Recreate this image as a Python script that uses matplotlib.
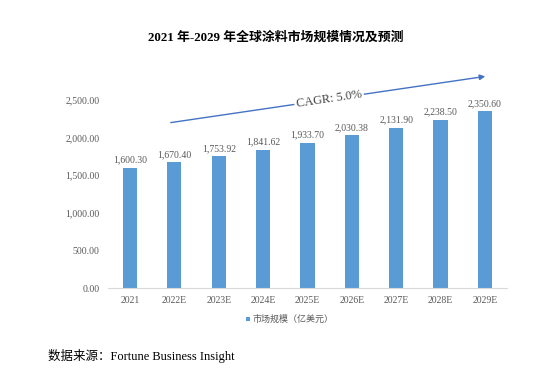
import matplotlib.pyplot as plt

# Data
years = ['2021', '2022E', '2023E', '2024E', '2025E', '2026E', '2027E', '2028E', '2029E']
market_size = [1600.30, 1670.40, 1753.92, 1841.62, 1933.70, 2030.38, 2131.90, 2238.50, 2350.60]
y_ticks = [0, 500, 1000, 1500, 2000, 2500]

serif = ['Liberation Serif', 'Noto Sans CJK SC']
cjk = ['Noto Sans CJK SC', 'DejaVu Sans']
gray = '#595959'
blue = '#5B9BD5'

fig = plt.figure(figsize=(5.56, 3.82), dpi=100)
ax = fig.add_axes([0.194, 0.246, 0.718, 0.492])

x = range(len(years))
ax.bar(x, market_size, width=0.32, color=blue, label='市场规模（亿美元）')
for xi, v in zip(x, market_size):
    ax.text(xi, v + 40, f'{v:,.2f}', ha='center', va='bottom',
            fontsize=7, color=gray, family=serif)

ax.set_xlim(-0.5, len(years) - 0.5)
ax.set_ylim(0, 2500)
ax.set_yticks(y_ticks)
ax.set_yticklabels([f'{t:,.2f}' for t in y_ticks], family=serif, fontsize=7, color=gray)
ax.set_xticks(list(x))
ax.set_xticklabels(years, family=serif, fontsize=7, color=gray)
ax.tick_params(length=0, pad=6)
for s in ['top', 'right', 'left']:
    ax.spines[s].set_visible(False)
ax.spines['bottom'].set_color('#D9D9D9')

# CAGR arrow
ax.annotate('', xy=(488 / 556, 1 - 76 / 382), xytext=(168 / 556, 1 - 123 / 382),
            xycoords='figure fraction', textcoords='figure fraction',
            arrowprops=dict(arrowstyle='-|>', color='#4472C4', lw=1.0,
                            mutation_scale=8), annotation_clip=False)
fig.text(329 / 556, 1 - 99 / 382, 'CAGR: 5.0%', rotation=8.4, ha='center', va='center',
         fontsize=8.8, color='#404040', family=serif,
         bbox=dict(facecolor='white', edgecolor='none', pad=1.5))

fig.text(276 / 556, 1 - 38 / 382, '2021 年-2029 年全球涂料市场规模情况及预测',
         ha='center', va='center', fontsize=9.3, fontweight='bold', family=serif)

leg = ax.legend(loc='upper center', bbox_to_anchor=(0.456, -0.1), frameon=False,
                prop={'family': cjk, 'size': 6.5}, handlelength=0.45, handleheight=0.45,
                handletextpad=0.3, labelcolor=gray)

fig.text(48 / 556, 1 - 356 / 382, '数据来源：Fortune Business Insight',
         ha='left', va='center', fontsize=9, family=serif)

plt.savefig('out.png', dpi=100)
